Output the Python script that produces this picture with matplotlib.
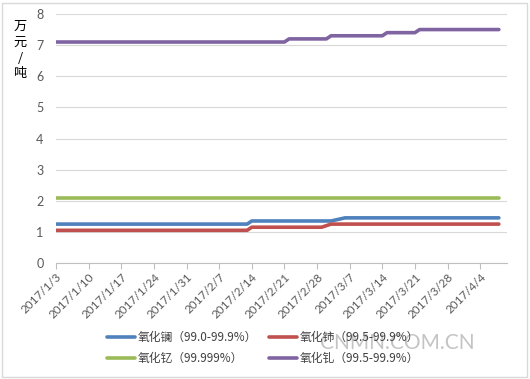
import matplotlib
matplotlib.use("Agg")
import matplotlib.pyplot as plt
import matplotlib.patches as mpatches
import datetime as dt

plt.rcParams['font.family'] = ['Noto Sans CJK SC', 'DejaVu Sans']

def d(s):
    return dt.datetime.strptime("2017/" + s, "%Y/%m/%d")

# price breakpoints, 万元/吨
la_dates = ["1/3", "2/13", "2/14", "3/3", "3/6", "4/8"]
la_vals = [1.25, 1.25, 1.35, 1.35, 1.45, 1.45]
ce_dates = ["1/3", "2/13", "2/14", "3/1", "3/3", "4/8"]
ce_vals = [1.05, 1.05, 1.15, 1.15, 1.25, 1.25]
y_dates = ["1/3", "4/8"]
y_vals = [2.1, 2.1]
gd_dates = ["1/3", "2/21", "2/22", "3/2", "3/3", "3/14", "3/15", "3/21", "3/22", "4/8"]
gd_vals = [7.1, 7.1, 7.2, 7.2, 7.3, 7.3, 7.4, 7.4, 7.5, 7.5]

names = ["氧化镧（99.0-99.9%）", "氧化铈（99.5-99.9%）", "氧化钇（99.999%）", "氧化钆（99.5-99.9%）"]
colors = ["#4F81BD", "#C0504D", "#9BBB59", "#8064A2"]

fig = plt.figure(figsize=(5.3, 3.79), dpi=100)
ax = fig.add_axes([56/530, 1-263/379, 451/530, 249/379])

series = [(la_dates, la_vals), (ce_dates, ce_vals), (y_dates, y_vals), (gd_dates, gd_vals)]
lines = []
for (ds, vs), name, c in zip(series, names, colors):
    ln, = ax.plot([d(s) for s in ds], vs, color=c, lw=2.6, label=name,
                  solid_capstyle='round', solid_joinstyle='round')
    lines.append(ln)

ax.set_ylim(0, 8)
ax.set_yticks(range(0, 9))
ax.set_xlim(d("1/3"), d("4/9") + dt.timedelta(hours=18))
ticks = [d("1/3") + dt.timedelta(days=7*i) for i in range(14)]
ax.set_xticks(ticks)
ax.set_xticklabels(["2017/%d/%d" % (t.month, t.day) for t in ticks],
                   rotation=45, ha='right', rotation_mode='anchor',
                   family=['Lato', 'DejaVu Sans'])
ax.grid(axis='y', color='#D9D9D9', lw=0.8)
ax.set_axisbelow(True)
for sp in ['top', 'right', 'left']:
    ax.spines[sp].set_visible(False)
ax.spines['bottom'].set_color('#BFBFBF')
ax.tick_params(axis='x', length=4, color='#BFBFBF', labelsize=8.5, labelcolor='#595959', pad=2)
ax.tick_params(axis='y', length=0, labelsize=9, labelcolor='#595959', pad=9)
for lb in ax.get_yticklabels():
    lb.set_family(['Lato', 'DejaVu Sans'])

fig.text(20/530, 1-50/379, "万\n元\n/\n吨", ha='center', va='center',
         fontsize=9.5, linespacing=1.3, color='#000000')

# legend fills column-wise: row 1 = 镧, 铈 ; row 2 = 钇, 钆
order = [0, 2, 1, 3]
leg = fig.legend([lines[i] for i in order], [names[i] for i in order],
                 loc='upper left', bbox_to_anchor=(102/530, 1-326/379), ncol=2,
                 frameon=False, fontsize=8.5, handlelength=2.4, handletextpad=0.2,
                 columnspacing=1.0, labelspacing=0.7, borderaxespad=0)
for t in leg.get_texts():
    t.set_color('#404040')

fig.text(397/530, 1-343/379, "CNMN.COM.CN", ha='center', va='center',
         fontsize=15, color='#B0B0B0', alpha=0.75, family=['Lato', 'DejaVu Sans'])

fig.patches.append(mpatches.Rectangle((2/530, 2/379), 525/530, 374/379,
                                      transform=fig.transFigure, fill=False,
                                      edgecolor='#D9D9D9', lw=1))

fig.savefig("out.png", dpi=100, facecolor='white')
